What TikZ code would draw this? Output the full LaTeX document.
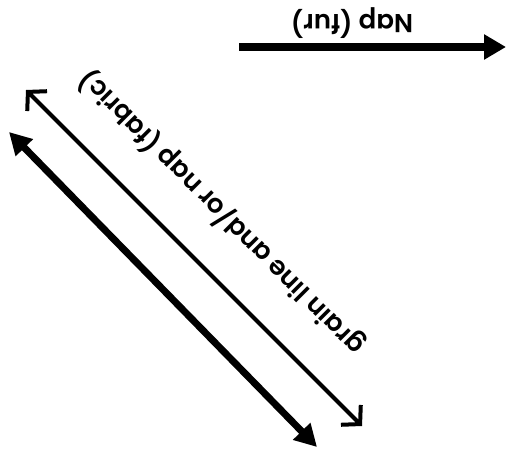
\documentclass[tikz,border=0pt]{standalone}
\usepackage{fontspec}
\setmainfont{Poppins}[UprightFont=* SemiBold, BoldFont=* SemiBold]
\usetikzlibrary{arrows.meta}
\begin{document}
\begin{tikzpicture}[x=1pt,y=-1pt,
  lbl/.style={font=\fontsize{26}{31}\selectfont, inner sep=0pt},
  heavyarrow/.style={line width=8pt, -{Triangle[length=22pt,width=24pt]}},
  thickarrow/.style={line width=7pt, {Triangle[length=22pt,width=23pt]}-{Triangle[length=22pt,width=23pt]}},
  thinarrow/.style={line width=4pt, line cap=round, line join=round, {Straight Barb[length=13pt,width=28pt]}-{Straight Barb[length=13pt,width=28pt]}}]
\useasboundingbox (0,0) rectangle (506,465);
\coordinate (napA) at (239,47);
\coordinate (napB) at (506,47);
\draw[heavyarrow] (napA) -- (napB);
\node[lbl, rotate=180] (naptext) at (352,23) {Nap (fur)};
\coordinate (thinA) at (26,90);
\coordinate (thinB) at (362,426);
\draw[thinarrow] (thinA) -- (thinB);
\coordinate (thickA) at (9,132);
\coordinate (thickB) at (317,447);
\draw[thickarrow] (thickA) -- (thickB);
\node[lbl, rotate=135] (graintext) at (221,213) {grain line and/or nap (fabric)};
\end{tikzpicture}
\end{document}
